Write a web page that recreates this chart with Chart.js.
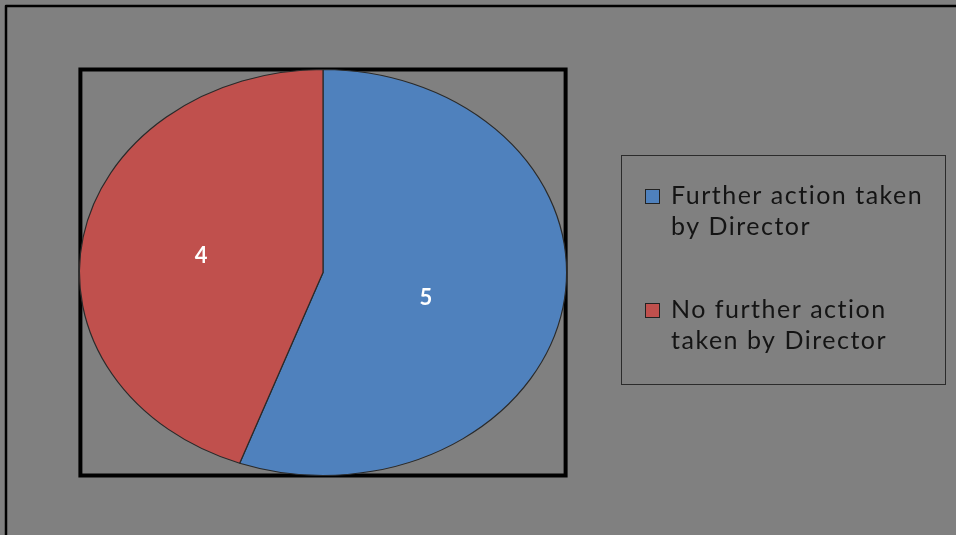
<!DOCTYPE html>
<html>
<head>
<meta charset="utf-8">
<script src="https://cdn.jsdelivr.net/npm/chart.js@4"></script>
<style>
  html, body { margin: 0; padding: 0; background: #808080; overflow: hidden; }
  canvas { display: block; }
</style>
</head>
<body>
<canvas id="c" width="956" height="535"></canvas>
<script>
// Outcome of referred cases
const categories = ["Further action taken by Director", "No further action taken by Director"];
const counts = [5, 4];
const sliceColors = ["#4F81BD", "#C0504D"];

// The pie is drawn as an ellipse: horizontal stretch applied around its centre
const X_STRETCH = 1.2;

function ellipseGeom(chart) {
  const arc = chart.getDatasetMeta(0).data[0];
  return { cx: arc.x, cy: arc.y, ry: arc.outerRadius, rx: arc.outerRadius * X_STRETCH };
}

function wrapText(ctx, text, maxWidth) {
  const words = text.split(" ");
  const lines = [];
  let line = "";
  for (const w of words) {
    const test = line ? line + " " + w : w;
    if (line && ctx.measureText(test).width > maxWidth) {
      lines.push(line);
      line = w;
    } else {
      line = test;
    }
  }
  if (line) lines.push(line);
  return lines;
}

// Background, outer frame and the plot-area box around the ellipse
const framePlugin = {
  id: "frame",
  beforeDraw(chart) {
    const ctx = chart.ctx;
    ctx.save();
    ctx.fillStyle = "#808080";
    ctx.fillRect(0, 0, chart.width, chart.height);
    ctx.strokeStyle = "#000";
    ctx.lineWidth = 2.5;
    ctx.lineJoin = "round";
    ctx.strokeRect(6, 6, chart.width + 20, chart.height + 20);
    const g = ellipseGeom(chart);
    ctx.lineWidth = 4;
    ctx.lineJoin = "miter";
    ctx.strokeRect(g.cx - g.rx + 1, g.cy - g.ry, 2 * g.rx - 2, 2 * g.ry);
    ctx.restore();
  }
};

// Stretches the slices horizontally, then writes the value on each slice
const ellipsePlugin = {
  id: "ellipse",
  beforeDatasetsDraw(chart) {
    const ctx = chart.ctx;
    const g = ellipseGeom(chart);
    ctx.save();
    ctx.translate(g.cx, g.cy);
    ctx.scale(X_STRETCH, 1);
    ctx.translate(-g.cx, -g.cy);
  },
  afterDatasetsDraw(chart, args, opts) {
    const ctx = chart.ctx;
    ctx.restore();
    const g = ellipseGeom(chart);
    const meta = chart.getDatasetMeta(0);
    const values = chart.data.datasets[0].data;
    ctx.save();
    ctx.fillStyle = "#ffffff";
    ctx.font = "bold 22px Lato, 'Open Sans', sans-serif";
    ctx.textAlign = "center";
    ctx.textBaseline = "middle";
    meta.data.forEach((arc, i) => {
      const mid = (arc.startAngle + arc.endAngle) / 2;
      const nudge = opts.nudge[i] || [0, 0];
      const x = g.cx + Math.cos(mid) * g.rx * 0.5 + nudge[0];
      const y = g.cy + Math.sin(mid) * g.ry * 0.5 + nudge[1];
      ctx.fillText(String(values[i]), x, y);
    });
    ctx.restore();
  }
};

// Boxed legend on the right with wrapped entries
const boxLegendPlugin = {
  id: "boxLegend",
  afterDraw(chart, args, opts) {
    const ctx = chart.ctx;
    const ds = chart.data.datasets[0];
    ctx.save();
    ctx.strokeStyle = "#2b2b2b";
    ctx.lineWidth = 1;
    ctx.strokeRect(opts.x + 0.5, opts.y + 0.5, opts.w, opts.h);
    ctx.font = opts.font;
    ctx.letterSpacing = opts.letterSpacing;
    ctx.textBaseline = "alphabetic";
    ctx.textAlign = "left";
    chart.data.labels.forEach((label, i) => {
      const top = opts.firstBaseline + i * opts.itemGap;
      ctx.fillStyle = ds.backgroundColor[i];
      ctx.fillRect(opts.x + 24, top - 15, 15, 15);
      ctx.strokeStyle = "#222";
      ctx.strokeRect(opts.x + 24.5, top - 14.5, 14, 14);
      ctx.fillStyle = "#141414";
      const lines = wrapText(ctx, label, 265);
      lines.forEach((ln, j) => {
        ctx.fillText(ln, opts.x + 50, top + j * opts.lineHeight);
      });
    });
    ctx.restore();
  }
};

new Chart(document.getElementById("c"), {
  type: "pie",
  data: {
    labels: categories,
    datasets: [{
      data: counts,
      backgroundColor: sliceColors,
      borderColor: "#2a2a2a",
      borderWidth: 1
    }]
  },
  options: {
    responsive: false,
    animation: false,
    events: [],
    devicePixelRatio: 1,
    layout: { padding: { left: 119.5, right: 429.5, top: 69, bottom: 59 } },
    plugins: {
      legend: { display: false },
      tooltip: { enabled: false },
      ellipse: { nudge: [[-17, 8], [-2, 1]] },
      boxLegend: {
        x: 621, y: 155, w: 324, h: 229,
        font: "25px Lato, 'Open Sans', sans-serif",
        letterSpacing: "1.5px",
        firstBaseline: 204, lineHeight: 31, itemGap: 114
      }
    }
  },
  plugins: [framePlugin, ellipsePlugin, boxLegendPlugin]
});
</script>
</body>
</html>
